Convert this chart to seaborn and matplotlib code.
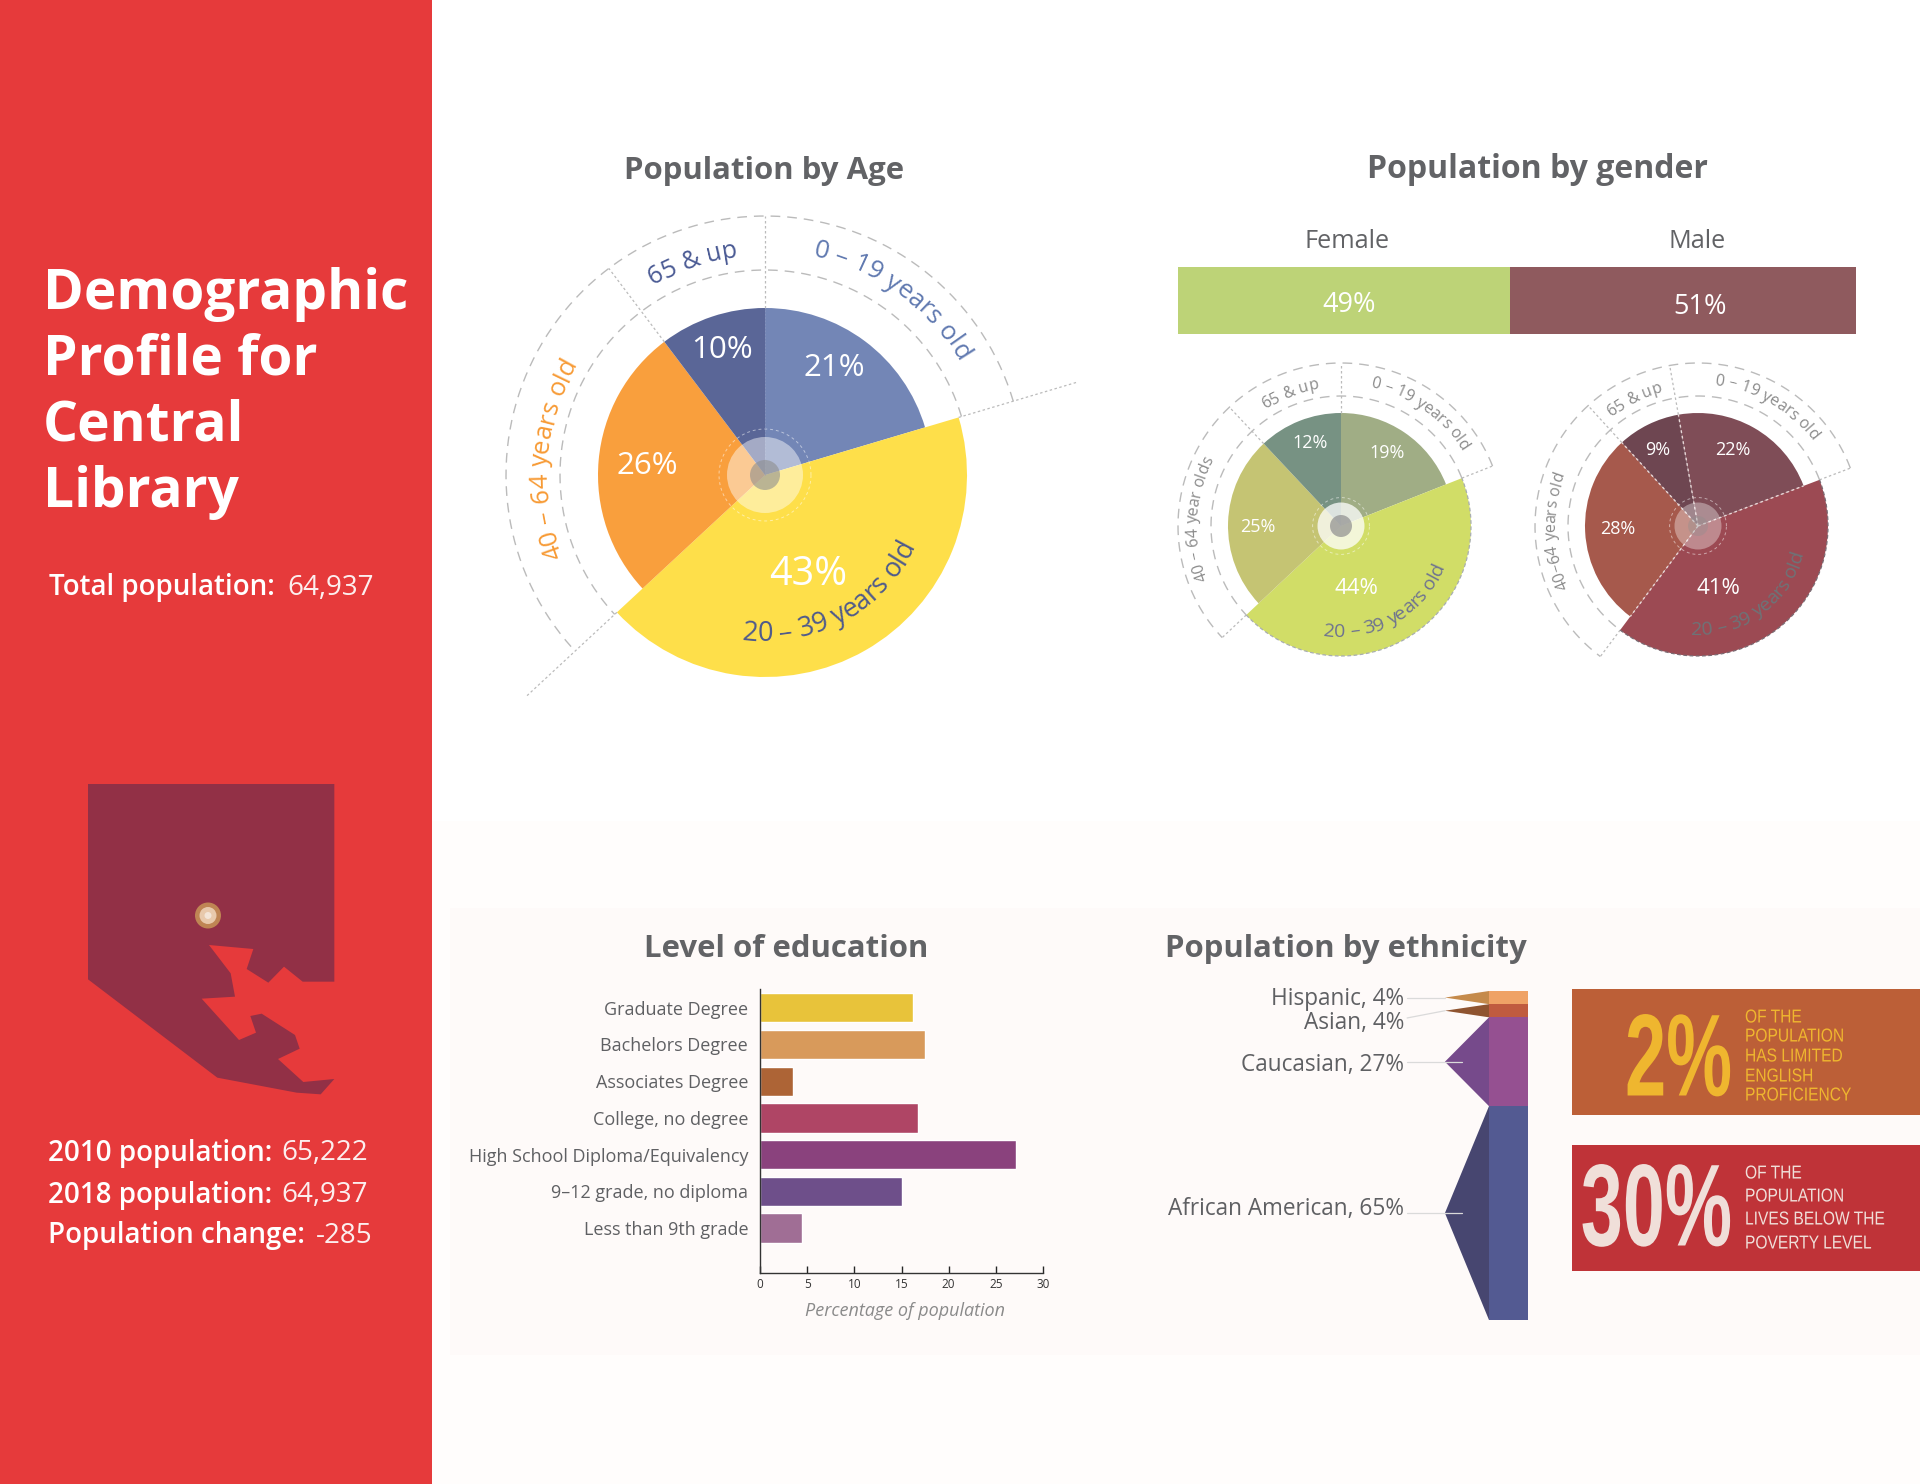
#! /usr/bin/env python3
import numpy as np
import pandas as pd
import seaborn as sns
import matplotlib
matplotlib.use('Agg')
import matplotlib.pyplot as plt
from matplotlib.patches import Circle, Rectangle
from matplotlib.patheffects import AbstractPathEffect
from matplotlib.textpath import text_to_path
from matplotlib.font_manager import FontProperties
from matplotlib.transforms import Affine2D

# values
age_names = ['0 – 19 years old', '20 – 39 years old', '40 – 64 years old', '65 & up']
age_labels = ['21%', '43%', '26%', '10%']
age_shares = [20.4, 42.7, 26.6, 10.3]
female_names = ['0 – 19 years old', '20 – 39 years old', '40 – 64 year olds', '65 & up']
female_labels = ['19%', '44%', '25%', '12%']
female_shares = [19, 44, 25, 12]
male_names = ['0 – 19 years old', '20 – 39 years old', '40–64 years old', '65 & up']
male_labels = ['22%', '41%', '28%', '9%']
male_shares = [22, 41, 28, 9]
gender_names = ['Female', 'Male']
gender_shares = [49, 51]
edu_names = ['Graduate Degree', 'Bachelors Degree', 'Associates Degree', 'College, no degree',
             'High School Diploma/Equivalency', '9–12 grade, no diploma', 'Less than 9th grade']
edu_values = [16.2, 17.5, 3.55, 16.7, 27.1, 15.0, 4.45]
edu_ticks = [0, 5, 10, 15, 20, 25, 30]
eth_names = ['Hispanic', 'Asian', 'Caucasian', 'African American']
eth_values = [4, 4, 27, 65]

# colours
RED = '#E63A3B'
GREY = '#626366'
age_colors = ['#7386B6', '#FEDF4A', '#F99F3D', '#5A6697']
female_colors = ['#A0AD85', '#D1DD67', '#C5C473', '#779283']
male_colors = ['#7F4D57', '#9C4A53', '#A6594C', '#6E4651']
gender_colors = ['#BDD377', '#8F5A5E']
edu_colors = ['#E8C33A', '#D89A5B', '#AD6436', '#AF4565', '#8A427D', '#6E4F8A', '#A06E95']
eth_colors = ['#EFA266', '#C05B3F', '#955091', '#535A92']
eth_shade = ['#C58A4B', '#8F5430', '#764A8B', '#474670']

W, H = 1920, 1484
sns.set_theme(style='white')
plt.rcParams['font.family'] = ['Open Sans', 'DejaVu Sans']
plt.rcParams['axes.facecolor'] = 'none'

fig = plt.figure(figsize=(W / 100, H / 100), dpi=100, facecolor='white')


def px_axes(x0, y0, x1, y1, z=1):
    return fig.add_axes([x0 / W, 1 - y1 / H, (x1 - x0) / W, (y1 - y0) / H], zorder=z)


# whole page in pixels, one under everything and one over it for the text
page = px_axes(0, 0, W, H, 0)
top = px_axes(0, 0, W, H, 10)
for a in (page, top):
    a.set_xlim(0, W)
    a.set_ylim(H, 0)
    a.axis('off')

page.add_patch(Rectangle((432, 821), W - 432, H - 821, color='#FFFDFC', lw=0))
page.add_patch(Rectangle((450, 908), W - 450, 447, color='#FEFAF9', lw=0))
page.add_patch(Rectangle((0, 0), 432, H, color=RED, lw=0))

# county outline on the sidebar
county = np.array([(84, 72), (823, 72), (823, 665), (728, 665), (672, 620), (625, 668), (560, 627),
                   (580, 567), (447, 555), (512, 640), (525, 710), (425, 716), (537, 840), (588, 818),
                   (571, 768), (605, 761), (705, 825), (719, 866), (654, 897), (730, 966), (823, 957),
                   (782, 1003), (710, 998), (472, 953), (84, 658)]) / 3 + (60, 760)
page.fill(county[:, 0], county[:, 1], color='#923046', lw=0)
for r, c in [(13, '#BF8554'), (8.5, '#E8C9AC'), (3.5, '#F3E5D8')]:
    page.add_patch(Circle((208, 915.5), r, color=c, lw=0))


def label(x, y, s, size, color='white', weight='normal', ha='center', **kw):
    return top.text(x, y + 3, s, fontsize=size, color=color, fontweight=weight, ha=ha, va='center', **kw)


def advance(s, prop):
    # pen position after s, in pixels
    w = text_to_path.get_text_width_height_descent('|' + s + '|', prop, False)[0]
    w0 = text_to_path.get_text_width_height_descent('||', prop, False)[0]
    return (w - w0) * 100 / 72


def curved_text(ax, s, r, centre, size, color, inward=False):
    prop = FontProperties(family='Open Sans', size=size)
    total = advance(s, prop)
    for i, ch in enumerate(s):
        if ch == ' ':
            continue
        mid = (advance(s[:i], prop) + advance(s[:i + 1], prop)) / 2 - total / 2
        da = np.degrees(mid / r)
        ang = centre + da if inward else centre - da
        rot = ang + 90 if inward else ang - 90
        ax.text(r * np.cos(np.radians(ang)), r * np.sin(np.radians(ang)), ch, fontsize=size, color=color,
                rotation=rot, rotation_mode='anchor', ha='center', va='baseline', family='Open Sans')


def arc(ax, r, a0, a1, color='#BBBBBB', lw=1.0, dashes=(7, 5), alpha=1):
    t = np.radians(np.linspace(a0, a1, 200))
    ax.plot(r * np.cos(t), r * np.sin(t), color=color, lw=lw, dashes=dashes, alpha=alpha, zorder=3)


def ray(ax, ang, r0, r1, color='#BBBBBB', lw=0.9, dashes=(2, 2)):
    t = np.radians(ang)
    ax.plot([r0 * np.cos(t), r1 * np.cos(t)], [r0 * np.sin(t), r1 * np.sin(t)],
            color=color, lw=lw, dashes=dashes, zorder=3)


def age_pie(cx, cy, half, shares, colors, start, r, big, inner, outer, far, hub, rim=None):
    ax = px_axes(cx - half, cy - half, cx + half, cy + half, 2)
    wedges, _ = ax.pie(shares, colors=colors, startangle=start, counterclock=False, radius=r,
                       wedgeprops={'linewidth': 0})
    wedges[1].set_radius(big)
    ax.set_xlim(-half, half)
    ax.set_ylim(-half, half)
    edge = start - np.cumsum(shares) * 3.6
    arc(ax, outer, edge[0], edge[1] + 360)
    arc(ax, inner, edge[0], edge[1] + 360)
    ray(ax, start, r, outer)
    ray(ax, edge[2] + 360, r, outer)
    ray(ax, edge[0], big, far)
    ray(ax, edge[1], big, far)
    if rim:
        arc(ax, big, edge[1], edge[0], dashes=(3, 2), lw=0.9, color=rim)
    # hub in the middle of the wheel
    ax.add_patch(Circle((0, 0), hub[0], color='white', alpha=hub[2], lw=0, zorder=4))
    ax.add_patch(Circle((0, 0), hub[1], color='#8E8E8E', alpha=hub[3], lw=0, zorder=5))
    arc(ax, hub[0] * 1.21, 0, 360, color='white', lw=0.7, dashes=(3, 3), alpha=0.5)
    return ax, edge


# population by age
ax, edge = age_pie(765, 475, 340, age_shares, age_colors, 90, 167, 202, 205, 259, 326, (38, 15, 0.45, 0.6))
curved_text(ax, age_names[0], 224, 54, 18.5, '#6079B0')
curved_text(ax, age_names[3], 220, 108.8, 18, '#4A5A94')
curved_text(ax, age_names[2], 218, 175.5, 18.5, '#F79A34')
curved_text(ax, age_names[1], 166, 298.5, 19.5, '#4E5A8C', inward=True)
ray(ax, 90, 0, 167, color='#8793BB', lw=0.6)

# female wheel
ax, edge = age_pie(1341, 526, 190, female_shares, female_colors, 90, 113, 130, 130, 163, 163,
                   (23.5, 11, 0.75, 0.7), rim='#A9AEB0')
curved_text(ax, female_names[0], 142, 55, 11.5, '#8B8B8B')
curved_text(ax, female_names[3], 139, 111, 11.5, '#8B8B8B')
curved_text(ax, female_names[2], 144, 177, 11.5, '#8B8B8B')
curved_text(ax, female_names[1], 111, 300, 14, '#6E7390', inward=True)

# male wheel
ax, edge = age_pie(1698, 526, 190, male_shares, male_colors, 100, 113, 130, 130, 163, 163,
                   (23.5, 10, 0.35, 0.35), rim='#7A6A72')
curved_text(ax, male_names[0], 142, 60, 11.5, '#8B8B8B')
curved_text(ax, male_names[3], 139, 116.6, 11.5, '#8B8B8B')
curved_text(ax, male_names[2], 143, 182, 11.5, '#8B8B8B')
curved_text(ax, male_names[1], 109, 306, 14, '#6D7478', inward=True)
for ang in [100, edge[2] + 360, edge[0], edge[1]]:
    ray(ax, ang, 0, 113, color='#E8D8D8', lw=1.0)

# percentages on the wheels
for (x, y), s, size in zip([(834, 365), (808, 572), (647, 463), (722, 347)], age_labels, [22.5, 28.5, 22.5, 22.5]):
    label(x, y, s, size)
for (x, y), s, size in zip([(1387, 450), (1356, 586), (1258, 524), (1310, 440)], female_labels, [13, 16, 13, 13]):
    label(x, y, s, size)
for (x, y), s, size in zip([(1733, 447), (1718, 586), (1618, 526), (1658, 447)], male_labels, [13, 16, 13, 13]):
    label(x, y, s, size)

# gender split bar
ax = px_axes(1178, 267, 1856, 334, 2)
left = 0
for v, c in zip(gender_shares, gender_colors):
    ax.barh([0], [v], left=left, height=1, color=c, lw=0)
    left += v
ax.set_xlim(0, sum(gender_shares))
ax.set_ylim(-0.5, 0.5)
ax.axis('off')
label(1349, 302, f'{gender_shares[0]}%', 19.5)
label(1700, 304, f'{gender_shares[1]}%', 19.5)
label(1347, 239, gender_names[0], 18.2, color=GREY)
label(1697, 239, gender_names[1], 18.2, color=GREY)

# level of education
edu = pd.DataFrame({'name': edu_names, 'value': edu_values})
ax = px_axes(760, 989, 1043, 1273, 2)
sns.barplot(data=edu, y='name', x='value', hue='name', palette=edu_colors, saturation=1, width=0.8,
            dodge=False, legend=False, ax=ax)
ax.set_xlim(0, 30)
ax.set_ylim(7.22, -0.51)
ax.set_xticks(edu_ticks)
ax.set_xlabel('')
ax.set_ylabel('')
ax.tick_params(axis='x', direction='in', length=5, width=1, labelsize=8.5, labelcolor='#333333', pad=3.5, bottom=True)
ax.tick_params(axis='y', length=0, labelsize=13, labelcolor='#5F6063', pad=8.5)
sns.despine(ax=ax)
for s in ('left', 'bottom'):
    ax.spines[s].set_color('#333333')
    ax.spines[s].set_linewidth(1)
label(905, 1308, 'Percentage of population', 13, color='#8A8A8A', style='italic')

# population by ethnicity, stacked strip with a shaded point beside each piece
ax = px_axes(1440, 991, 1528, 1320, 2)
ax.set_xlim(-49 / 39, 1)
ax.set_ylim(sum(eth_values), 0)
ax.axis('off')
low = np.cumsum([0] + eth_values[:-1])
for v, b, c, sh, name in zip(eth_values, low, eth_colors, eth_shade, eth_names):
    ax.bar([0.5], [v], bottom=b, width=1, color=c, lw=0)
    ax.fill([0, -1.13, 0], [b, b + v / 2, b + v], color=sh, lw=0)
# leader lines, the two big pieces run a little way into their point
for b, v, x_end, drop in zip(low, eth_values, [-1.13, -1.13, -0.69, -0.69], [0, 2.2, 0, 0]):
    ax.plot([-2.1, x_end], [b + v / 2 + drop, b + v / 2], color='#DADADA', lw=0.9, clip_on=False, zorder=4)
for y, name, v in zip([996, 1020, 1062, 1206], eth_names, eth_values):
    label(1404, y, f'{name}, {v}%', 16.3, color='#5F6063', ha='right')


# the callouts are set in a far narrower face than anything installed
class Squeeze(AbstractPathEffect):
    def __init__(self, x0, sx):
        self.x0, self.sx = x0, sx

    def draw_path(self, renderer, gc, tpath, affine, rgbFace=None):
        aff = affine + Affine2D().translate(-self.x0, 0).scale(self.sx, 1).translate(self.x0, 0)
        renderer.draw_path(gc, tpath, aff, rgbFace)


page.add_patch(Rectangle((1572, 989), W - 1572, 126, color='#BC5F37', lw=0))
page.add_patch(Rectangle((1572, 1145), W - 1572, 126, color='#BF3338', lw=0))
NARROW = 'Liberation Sans'
# anchored at the right end, so the unsqueezed box stays clear of the small text
t = label(1732, 1062, '2%', 84, color='#EFB62F', weight='bold', ha='right', family=NARROW)
t.set_path_effects([Squeeze(1732, 0.635)])
t = label(1732, 1212, '30%', 84, color='#F0DFD9', weight='bold', ha='right', family=NARROW)
t.set_path_effects([Squeeze(1732, 0.648)])
for y, s in zip([1015, 1034, 1054, 1074, 1093], ['OF THE', 'POPULATION', 'HAS LIMITED', 'ENGLISH', 'PROFICIENCY']):
    t = label(1745, y, s, 13.5, color='#EFB62F', ha='left', family=NARROW)
    t.set_path_effects([Squeeze(1745, 0.83)])
for y, s in zip([1171, 1194, 1217, 1241], ['OF THE', 'POPULATION', 'LIVES BELOW THE', 'POVERTY LEVEL']):
    t = label(1745, y, s, 13.5, color='#F0DFD9', ha='left', family=NARROW)
    t.set_path_effects([Squeeze(1745, 0.83)])

# titles
label(764, 168, 'Population by Age', 22.4, color=GREY, weight='bold')
label(1537, 166, 'Population by gender', 23, color=GREY, weight='bold')
label(786, 946, 'Level of education', 22.4, color=GREY, weight='bold')
label(1346, 946, 'Population by ethnicity', 22.4, color=GREY, weight='bold')

# sidebar text
for y, s in zip([291, 357, 423, 489], ['Demographic', 'Profile for', 'Central', 'Library']):
    label(43, y, s, 39.6, weight='bold', ha='left')
for x0, x1, y, name, value in [(49, 287, 585, 'Total population:', '64,937'),
                               (48, 281, 1150, '2010 population:', '65,222'),
                               (48, 281, 1192, '2018 population:', '64,937'),
                               (48, 316, 1233, 'Population change:', '-285')]:
    label(x0, y, name, 20, weight=600, ha='left')
    label(x1, y, value, 20, ha='left', alpha=0.92)

fig.savefig('out.png', dpi=100, facecolor='white')
